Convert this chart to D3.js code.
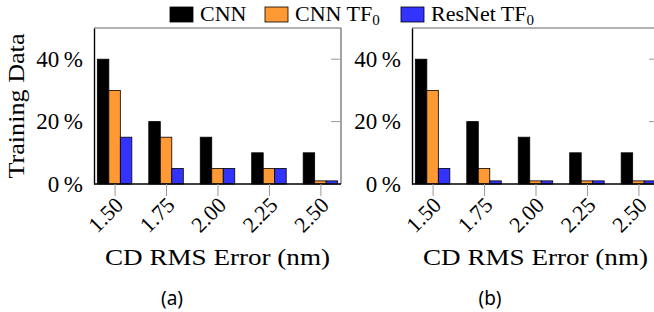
<!DOCTYPE html>
<html>
<head>
<meta charset="utf-8">
<script src="https://cdn.jsdelivr.net/npm/d3@7"></script>
<style>
  body { margin: 0; background: #fff; }
</style>
</head>
<body>
<div id="chart"></div>
<script>
// categories (CD RMS error, nm)
const errors = [1.50, 1.75, 2.00, 2.25, 2.50];
const series = ['CNN', 'CNN TF0', 'ResNet TF0'];
// training data share, percent
const cnnA = [40, 20, 15, 10, 10];
const cnnTfA = [30, 15, 5, 5, 1];
const resnetTfA = [15, 5, 5, 5, 1];
const cnnB = [40, 20, 15, 10, 10];
const cnnTfB = [30, 5, 1, 1, 1];
const resnetTfB = [5, 1, 1, 1, 1];
const yTicks = [0, 20, 40];
const captions = ['(a)', '(b)'];

const colors = ['#000000', '#ff9933', '#3333ff'];
const serif = '"Liberation Serif", "Times New Roman", serif';

const W = 654, H = 312;
const svg = d3.select('#chart').append('svg')
    .attr('width', W)
    .attr('height', H);

const plotTop = 28, plotBottom = 184;
const y = d3.scaleLinear().domain([0, 50]).range([plotBottom, plotTop]);
const barW = 11.5;

function panel(left, values, caption) {
    const right = left + 247;
    const x = d3.scaleLinear().domain([1.4, 2.6]).range([left, right]);
    const g = svg.append('g');

    // bars
    values.forEach((vals, s) => {
        g.selectAll('.bar' + s)
            .data(vals)
            .enter()
            .append('rect')
            .attr('x', (d, i) => x(errors[i]) + (s - 1) * barW - barW / 2)
            .attr('y', d => y(d))
            .attr('width', barW)
            .attr('height', d => y(0) - y(d))
            .attr('fill', colors[s])
            .attr('stroke', '#000')
            .attr('stroke-width', 0.8);
    });

    // frame: top/right gray, left/bottom black
    g.append('line').attr('x1', left).attr('x2', right).attr('y1', plotTop).attr('y2', plotTop)
        .attr('stroke', '#666').attr('stroke-width', 1.2);
    g.append('line').attr('x1', right).attr('x2', right).attr('y1', plotTop).attr('y2', plotBottom)
        .attr('stroke', '#666').attr('stroke-width', 1.2);

    // right-side inner ticks
    g.selectAll('.rtick')
        .data(yTicks)
        .enter()
        .append('line')
        .attr('x1', right - 10).attr('x2', right)
        .attr('y1', d => y(d)).attr('y2', d => y(d))
        .attr('stroke', '#999').attr('stroke-width', 1);

    // y axis
    const yAxis = g.append('g')
        .attr('transform', `translate(${left},0)`)
        .call(d3.axisLeft(y).tickValues(yTicks).tickSize(0).tickPadding(11)
            .tickFormat(d => d + '\u2009%'));
    yAxis.select('.domain').attr('stroke', '#000').attr('stroke-width', 1.4);
    yAxis.selectAll('text')
        .style('font-family', serif)
        .style('font-size', '23px');

    // x axis
    const xAxis = g.append('g')
        .attr('transform', `translate(0,${plotBottom})`)
        .call(d3.axisBottom(x).tickValues(errors).tickSize(12).tickFormat(d3.format('.2f')));
    xAxis.select('.domain').attr('d', `M${left},0H${right}`).attr('stroke', '#000').attr('stroke-width', 1.4);
    xAxis.selectAll('.tick line').attr('stroke', '#999').attr('stroke-width', 1);
    xAxis.selectAll('text')
        .style('font-family', serif)
        .style('font-size', '22px')
        .attr('text-anchor', 'end')
        .attr('x', 0).attr('y', 0).attr('dy', '0.35em')
        .attr('transform', 'translate(4,17) rotate(-45)');

    // x title
    g.append('text')
        .attr('x', (left + right) / 2)
        .attr('y', 265)
        .attr('text-anchor', 'middle')
        .style('font-family', serif)
        .style('font-size', '23px')
        .attr('textLength', 225)
        .attr('lengthAdjust', 'spacingAndGlyphs')
        .text('CD RMS Error (nm)');

    // caption
    g.append('text')
        .attr('x', left + 78)
        .attr('y', 305)
        .attr('text-anchor', 'middle')
        .style('font-family', '"Noto Sans", sans-serif')
        .style('font-size', '19px')
        .text(caption);
}

panel(94, [cnnA, cnnTfA, resnetTfA], captions[0]);
panel(412, [cnnB, cnnTfB, resnetTfB], captions[1]);

// y title
svg.append('text')
    .attr('transform', `translate(24,${(plotTop + plotBottom) / 2}) rotate(-90)`)
    .attr('text-anchor', 'middle')
    .style('font-family', serif)
    .style('font-size', '23px')
    .attr('textLength', 145)
    .attr('lengthAdjust', 'spacingAndGlyphs')
    .text('Training Data');

// legend
const legendX = [170, 265, 401];
const legend = svg.append('g');
series.forEach((name, i) => {
    legend.append('rect')
        .attr('x', legendX[i]).attr('y', 7)
        .attr('width', 23).attr('height', 15)
        .attr('fill', colors[i])
        .attr('stroke', '#000').attr('stroke-width', 0.8);
    const t = legend.append('text')
        .attr('x', legendX[i] + 30)
        .attr('y', 21)
        .style('font-family', serif)
        .style('font-size', '22px');
    if (name.endsWith('TF0')) {
        t.append('tspan').text(name.slice(0, -1));
        t.append('tspan').style('font-size', '15px').attr('dy', 4).text('0');
    } else {
        t.text(name);
    }
});
</script>
</body>
</html>
